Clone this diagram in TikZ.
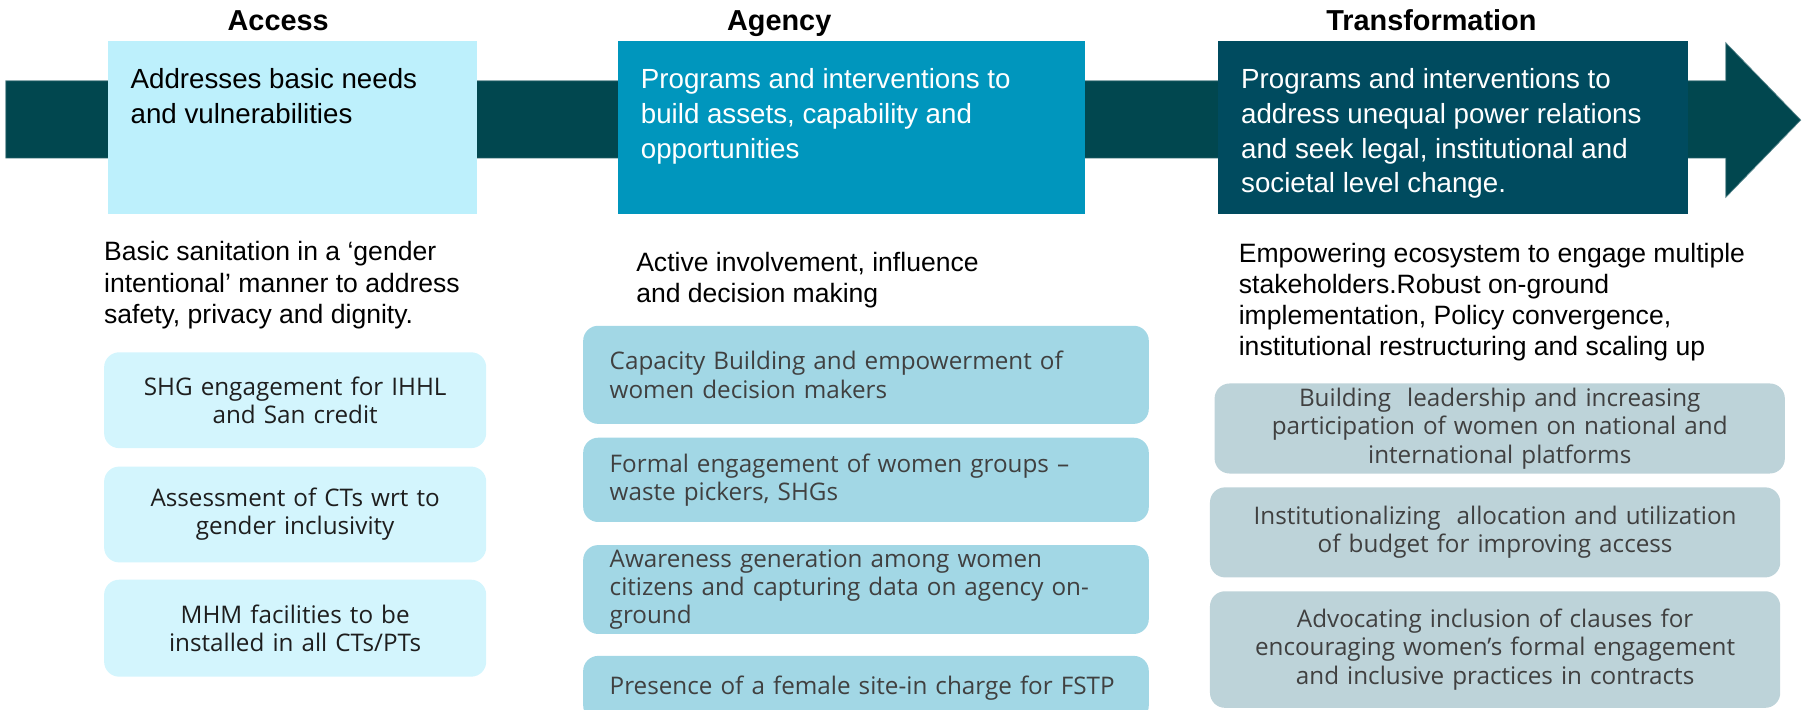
\documentclass[tikz,border=0pt]{standalone}
\usepackage{fontspec}
\setmainfont{Liberation Sans}
\newfontfamily\boxfont{Open Sans}
\definecolor{bandc}{HTML}{01474F}
\definecolor{bandedge}{HTML}{5E8A90}
\definecolor{accc}{HTML}{BDF0FC}
\definecolor{agec}{HTML}{0096BD}
\definecolor{trac}{HTML}{004B5F}
\definecolor{accr}{HTML}{D3F5FD}
\definecolor{ager}{HTML}{A2D7E5}
\definecolor{trar}{HTML}{BDD3D9}
\definecolor{darktxt}{HTML}{1E1E1E}
\definecolor{graytxt}{HTML}{404040}
\tikzset{
  title/.style={font=\fontsize{25}{30}\selectfont\bfseries, anchor=base, inner sep=0pt},
  phasebox/.style={anchor=north west, minimum width=#1, minimum height=150, inner sep=0pt},
  bandtext/.style={anchor=base west, inner sep=0pt, align=left, font=\fontsize{24}{30}\selectfont},
  desc/.style={anchor=base west, inner sep=0pt, align=left, font=\fontsize{23}{27}\selectfont},
  rbox/.style={rounded corners=13, inner sep=0pt, anchor=north west, font=\boxfont\fontsize{21}{24.5}\selectfont},
  accbox/.style={rbox, fill=accr, text=darktxt, align=center, text width=331, minimum height=#1},
  agebox/.style={rbox, fill=ager, text=graytxt, align=left, text width=490, minimum height=#1},
  trabox/.style={rbox, fill=trar, text=graytxt, align=center, text width=494, minimum height=#1},
}
\begin{document}
\begin{tikzpicture}[x=1pt,y=-1pt]
\useasboundingbox (0,0) rectangle (1568,615);
% band arrow
\fill[bandc, draw=bandedge, line width=0.6pt] (5,70) -- (1495,70) -- (1495,37) -- (1560,104) -- (1495,171) -- (1495,137) -- (5,137) -- cycle;
\coordinate (tip) at (1560,104);
% titles
\node[title] (tacc) at (241,26) {Access};
\node[title] (tage) at (675,26) {Agency};
\node[title] (ttra) at (1240,26) {Transformation};
% phase boxes
\node[phasebox=320, fill=accc] (bacc) at (93,35) {};
\node[phasebox=405, fill=agec] (bage) at (535,35) {};
\node[phasebox=407, fill=trac] (btra) at (1055,35) {};
% texts: anchor is the baseline of the last line
\node[bandtext, text=black] (xacc) at (113,107) {Addresses basic needs\\and vulnerabilities};
\node[bandtext, text=white] (xage) at (555,137) {Programs and interventions to\\build assets, capability and\\opportunities};
\node[bandtext, text=white] (xtra) at (1075,167) {Programs and interventions to\\address unequal power relations\\and seek legal, institutional and\\societal level change.};
% descriptions
\node[desc] (dacc) at (90,280) {Basic sanitation in a ‘gender\\intentional’ manner to address\\safety, privacy and dignity.};
\node[desc] (dage) at (551,262) {Active involvement, influence\\and decision making};
\node[desc] (dtra) at (1073,308) {Empowering ecosystem to engage multiple\\stakeholders.Robust on-ground\\implementation, Policy convergence,\\institutional restructuring and scaling up};
% access boxes
\node[accbox=83] (a1) at (90,305) {SHG engagement for IHHL\\and San credit};
\node[accbox=83] (a2) at (90,404) {Assessment of CTs wrt to\\gender inclusivity};
\node[accbox=84] (a3) at (90,502) {MHM facilities to be\\installed in all CTs/PTs};
% agency boxes
\node[agebox=85] (g1) at (505,282) {\hspace*{23pt}Capacity Building and empowerment of\\\hspace*{23pt}women decision makers};
\node[agebox=73] (g2) at (505,379) {\hspace*{23pt}Formal engagement of women groups –\\\hspace*{23pt}waste pickers, SHGs};
\node[agebox=77] (g3) at (505,472) {\hspace*{23pt}Awareness generation among women\\\hspace*{23pt}citizens and capturing data on agency on-\\\hspace*{23pt}ground};
\node[agebox=56] (g4) at (505,568) {\hspace*{23pt}Presence of a female site-in charge for FSTP};
% transformation boxes
\node[trabox=78] (t1) at (1052,332) {Building\ \ leadership and increasing\\participation of women on national and\\international platforms};
\node[trabox=78] (t2) at (1048,422) {Institutionalizing\ \ allocation and utilization\\of budget for improving access};
\node[trabox=101] (t3) at (1048,512) {Advocating inclusion of clauses for\\encouraging women’s formal engagement\\and inclusive practices in contracts};
\end{tikzpicture}
\end{document}
